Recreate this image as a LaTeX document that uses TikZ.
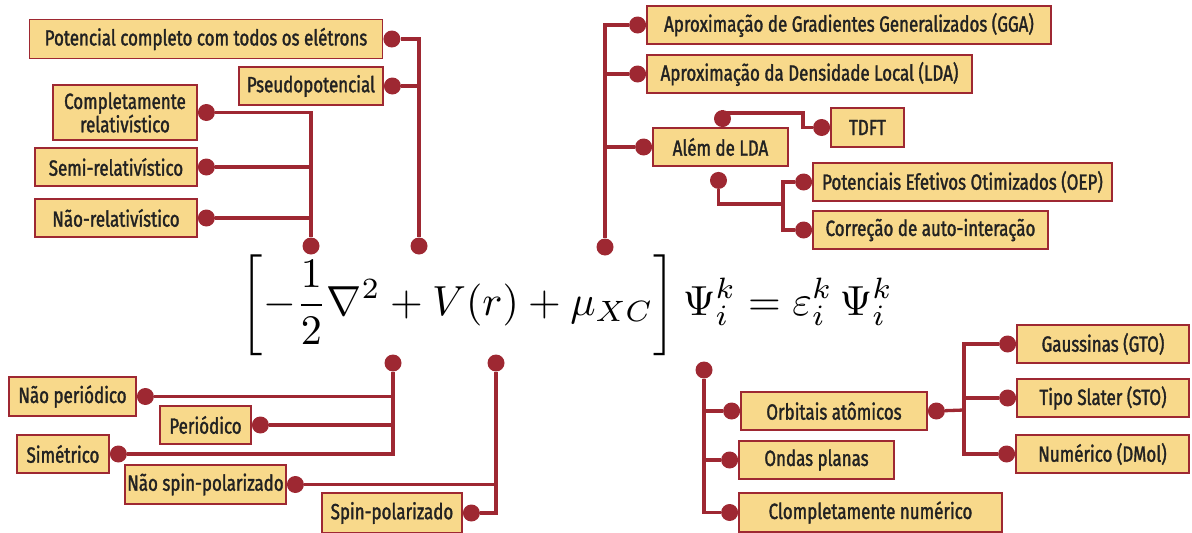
\documentclass[tikz,border=0pt]{standalone}
\usepackage{fontspec}
\setmainfont{Fira Sans}[FakeStretch=0.77,FakeBold=1.5]
\usepackage{amsmath}
\usepackage{graphicx}
\usetikzlibrary{positioning}
\definecolor{linkred}{HTML}{9E2832}
\definecolor{boxfill}{HTML}{F8D98B}
\definecolor{inkgray}{HTML}{222222}

\begin{document}
\begin{tikzpicture}[x=1pt, y=-1pt,
    box/.style={draw=linkred, line width=1.4pt, fill=boxfill, inner sep=0pt, align=center,
      text=inkgray, font=\fontsize{22}{20}\selectfont},
    dot/.style={circle, fill=linkred, inner sep=0pt, minimum size=17pt},
    link/.style={draw=linkred, line width=3.3pt}]
    \useasboundingbox (0,0) rectangle (1192,533);

    % equation and its six anchor dots
    \node (eq) at (567,305) {\resizebox{652pt}{!}{$\displaystyle\left[-\frac{1}{2}\nabla^2+V(r)+\mu_{XC}\right]\Psi_i^k=\varepsilon_i^k\,\Psi_i^k$}};
    \node[dot] (tB) at (311,246) {};
    \node[dot] (tA) at (419,246) {};
    \node[dot] (tC) at (605,247) {};
    \node[dot] (tD) at (393,363) {};
    \node[dot] (tE) at (496,363) {};
    \node[dot] (tF) at (704,370) {};

    % potential
    \node[box, minimum width=353pt, minimum height=39pt] (pot) at (206,39) {Potencial completo com todos os elétrons};
    \node[box, minimum width=144pt, minimum height=38pt] (pseudo) at (311,86) {Pseudopotencial};
    \node[box, minimum width=144pt, minimum height=55pt] (comp) at (125,112.5) {Completamente\\relativístico};
    \node[box, minimum width=162pt, minimum height=38pt] (semi) at (116,167) {Semi-relativístico};
    \node[box, minimum width=162pt, minimum height=38pt] (naorel) at (116,218) {Não-relativístico};
    \node[dot, anchor=west] (dpot) at (pot.east) {};
    \node[dot, anchor=west] (dpseudo) at (pseudo.east) {};
    \node[dot, anchor=west] (dcomp) at (comp.east) {};
    \node[dot, anchor=west] (dsemi) at (semi.east) {};
    \node[dot, anchor=west] (dnaorel) at (naorel.east) {};
    \draw[link] (dpot) -| (tA);
    \draw[link] (dpseudo) -- (dpseudo -| tA);
    \draw[link] (dcomp) -| (tB);
    \draw[link] (dsemi) -- (dsemi -| tB);
    \draw[link] (dnaorel) -- (dnaorel -| tB);

    % exchange-correlation
    \node[box, minimum width=404pt, minimum height=38pt] (gga) at (849,25) {Aproximação de Gradientes Generalizados (GGA)};
    \node[box, minimum width=325pt, minimum height=38pt] (lda) at (809.5,74) {Aproximação da Densidade Local (LDA)};
    \node[box, minimum width=135pt, minimum height=38pt] (alem) at (720.5,147) {Além de LDA};
    \node[box, minimum width=73pt, minimum height=39pt] (tdft) at (867.5,127.5) {TDFT};
    \node[box, minimum width=299pt, minimum height=38pt] (oep) at (962.5,182) {Potenciais Efetivos Otimizados (OEP)};
    \node[box, minimum width=235pt, minimum height=38pt] (corr) at (930.5,230) {Correção de auto-interação};
    \node[dot, anchor=east] (dgga) at (gga.west) {};
    \node[dot, anchor=east] (dlda) at (lda.west) {};
    \node[dot, anchor=east] (dalem) at (alem.west) {};
    \node[dot, anchor=east] (dtdft) at (tdft.west) {};
    \node[dot, anchor=east] (doep) at (oep.west) {};
    \node[dot, anchor=east] (dcorr) at (corr.west) {};
    \node[dot, anchor=south] (dalemt) at ([xshift=2pt]alem.north) {};
    \node[dot, anchor=north] (dalemb) at ([xshift=-2pt, yshift=-5pt]alem.south) {};
    \coordinate (kt) at (803,113);
    \coordinate (ko) at (783,204);
    \draw[link] (dgga) -| (tC);
    \draw[link] (dlda) -- (dlda -| tC);
    \draw[link] (dalem) -- (dalem -| tC);
    \draw[link] (dalemt) |- (kt) |- (dtdft);
    \draw[link] (dalemb) |- (ko);
    \draw[link] (doep) -| (ko);
    \draw[link] (dcorr) -| (ko);

    % boundary conditions and spin
    \node[box, minimum width=127pt, minimum height=39pt] (naoper) at (72.5,396.5) {Não periódico};
    \node[box, minimum width=91pt, minimum height=38pt] (per) at (205.5,425) {Periódico};
    \node[box, minimum width=92pt, minimum height=38pt] (sim) at (63,454) {Simétrico};
    \node[box, minimum width=161pt, minimum height=39pt] (naospin) at (205.5,484.5) {Não spin-polarizado};
    \node[box, minimum width=140pt, minimum height=40pt] (spin) at (392,513) {Spin-polarizado};
    \node[dot, anchor=west] (dnaoper) at (naoper.east) {};
    \node[dot, anchor=west] (dper) at (per.east) {};
    \node[dot, anchor=west] (dsim) at (sim.east) {};
    \node[dot, anchor=west] (dnaospin) at (naospin.east) {};
    \node[dot, anchor=west] (dspin) at (spin.east) {};
    \draw[link] (dsim) -| (tD);
    \draw[link] (dnaoper) -- (dnaoper -| tD);
    \draw[link] (dper) -- (dper -| tD);
    \draw[link] (dspin) -| (tE);
    \draw[link] (dnaospin) -- (dnaospin -| tE);

    % basis functions
    \node[box, minimum width=186pt, minimum height=38pt] (orb) at (834,411) {Orbitais atômicos};
    \node[box, minimum width=155pt, minimum height=38pt] (ondas) at (816.5,460) {Ondas planas};
    \node[box, minimum width=263pt, minimum height=39pt] (clomp) at (870.5,512.5) {Clompletamente numérico};
    \node[box, minimum width=172pt, minimum height=38pt] (gauss) at (1103,344) {Gaussinas (GTO)};
    \node[box, minimum width=172pt, minimum height=38pt] (slater) at (1103,398) {Tipo Slater (STO)};
    \node[box, minimum width=173pt, minimum height=38pt] (numer) at (1102.5,454) {Numérico (DMol)};
    \node[dot, anchor=east] (dorb) at (orb.west) {};
    \node[dot, anchor=east] (dondas) at (ondas.west) {};
    \node[dot, anchor=east] (dclomp) at (clomp.west) {};
    \node[dot, anchor=west] (dorbr) at (orb.east) {};
    \node[dot, anchor=east] (dgauss) at (gauss.west) {};
    \node[dot, anchor=east] (dslater) at (slater.west) {};
    \node[dot, anchor=east] (dnumer) at (numer.west) {};
    \coordinate (kg) at (964,410);
    \draw[link] (dclomp) -| (tF);
    \draw[link] (dorb) -- (dorb -| tF);
    \draw[link] (dondas) -- (dondas -| tF);
    \draw[link] (dorbr) -- (kg);
    \draw[link] (dgauss) -| (kg);
    \draw[link] (dnumer) -| (kg);
    \draw[link] (dslater) -- (dslater -| kg);
\end{tikzpicture}
\end{document}
